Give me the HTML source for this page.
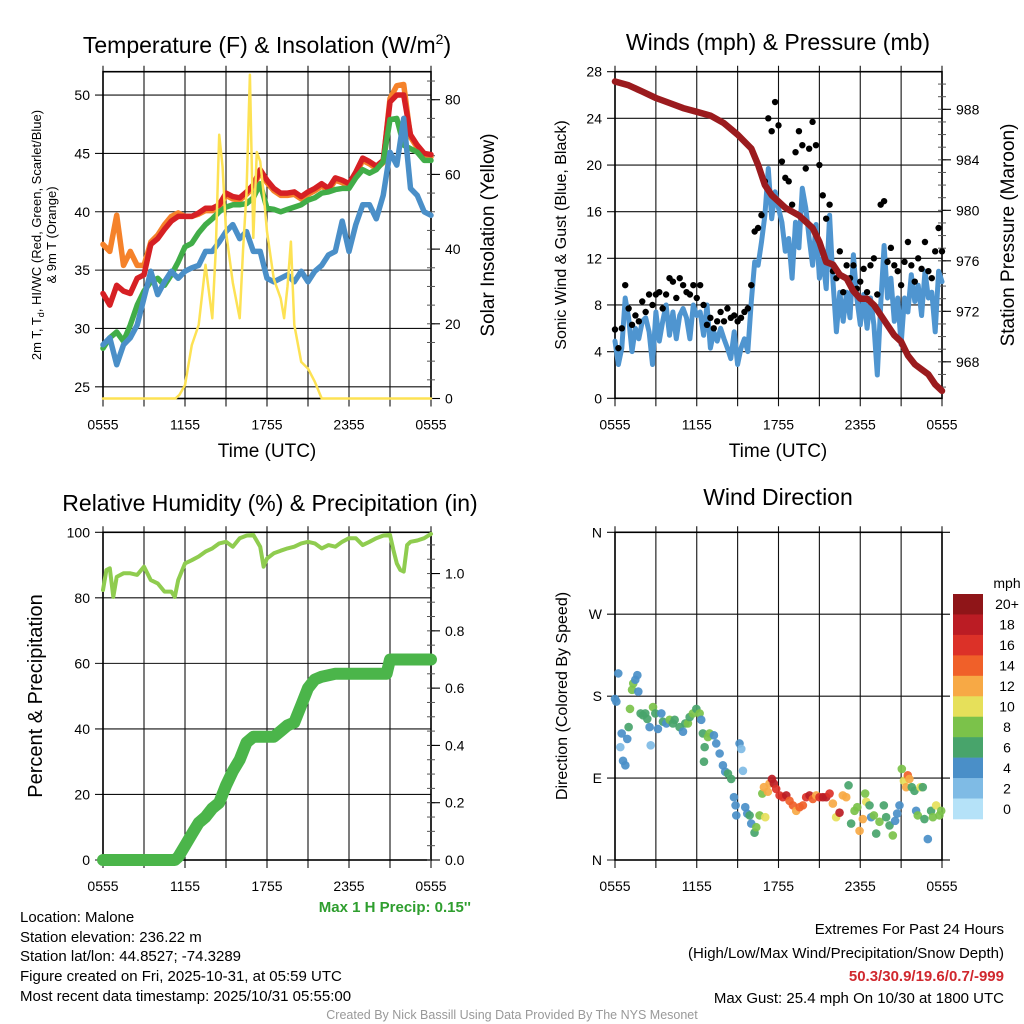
<!DOCTYPE html>
<html><head><meta charset="utf-8"><title>Malone Mesonet Meteogram</title>
<style>
html,body{margin:0;padding:0;background:#fff;}
svg{display:block;font-family:"Liberation Sans",Arial,sans-serif;}
</style></head>
<body>
<svg id="chart" width="1024" height="1024" viewBox="0 0 1024 1024" xmlns="http://www.w3.org/2000/svg">
<rect x="0" y="0" width="1024" height="1024" fill="#fff"/>
<!-- titles -->
<text x="267" y="53" font-size="23" text-anchor="middle">Temperature (F) &amp; Insolation (W/m<tspan dy="-9" font-size="14">2</tspan><tspan dy="9">)</tspan></text>
<text x="778" y="50" font-size="23" text-anchor="middle">Winds (mph) &amp; Pressure (mb)</text>
<text x="270" y="511" font-size="23" text-anchor="middle">Relative Humidity (%) &amp; Precipitation (in)</text>
<text x="778" y="505" font-size="23" text-anchor="middle">Wind Direction</text>
<!-- axis titles -->
<text transform="translate(41,235) rotate(-90)" font-size="13" text-anchor="middle">2m T, T<tspan font-size="9" dy="3">d</tspan><tspan dy="-3">, HI/WC (Red, Green, Scarlet/Blue)</tspan></text>
<text transform="translate(56,235) rotate(-90)" font-size="13" text-anchor="middle">&amp; 9m T (Orange)</text>
<text transform="translate(494,235) rotate(-90)" font-size="19" text-anchor="middle">Solar Insolation (Yellow)</text>
<text x="267" y="457" font-size="19" text-anchor="middle">Time (UTC)</text>
<text transform="translate(566,235) rotate(-90)" font-size="16" text-anchor="middle">Sonic Wind &amp; Gust (Blue, Black)</text>
<text transform="translate(1014,235) rotate(-90)" font-size="19" text-anchor="middle">Station Pressure (Maroon)</text>
<text x="778" y="457" font-size="19" text-anchor="middle">Time (UTC)</text>
<text transform="translate(42,696) rotate(-90)" font-size="20" text-anchor="middle">Percent &amp; Precipitation</text>
<text transform="translate(567,696) rotate(-90)" font-size="16" text-anchor="middle">Direction (Colored By Speed)</text>
<!-- info text -->
<text x="471" y="912" font-size="15" font-weight="bold" fill="#2e9e2e" text-anchor="end">Max 1 H Precip: 0.15''</text>
<g font-size="15">
<text x="20" y="922">Location: Malone</text>
<text x="20" y="942">Station elevation: 236.22 m</text>
<text x="20" y="961">Station lat/lon: 44.8527; -74.3289</text>
<text x="20" y="981">Figure created on Fri, 2025-10-31, at 05:59 UTC</text>
<text x="20" y="1001">Most recent data timestamp: 2025/10/31 05:55:00</text>
</g>
<g font-size="15" text-anchor="end">
<text x="1004" y="934">Extremes For Past 24 Hours</text>
<text x="1004" y="958">(High/Low/Max Wind/Precipitation/Snow Depth)</text>
<text x="1004" y="981" font-weight="bold" fill="#d0282e">50.3/30.9/19.6/0.7/-999</text>
<text x="1004" y="1003">Max Gust: 25.4 mph On 10/30 at 1800 UTC</text>
</g>
<text x="512" y="1019" font-size="12.5" fill="#999" text-anchor="middle">Created By Nick Bassill Using Data Provided By The NYS Mesonet</text>
</svg>
<script>
// ---------- data ----------
const halfHours = [0,0.5,1,1.5,2,2.5,3,3.5,4,4.5,5,5.5,6,6.5,7,7.5,8,8.5,9,9.5,10,10.5,11,11.5,12,12.5,13,13.5,14,14.5,15,15.5,16,16.5,17,17.5,18,18.5,19,19.5,20,20.5,21,21.5,22,22.5,23,23.5,24];
const temp2m = [33,32,33.7,33.2,33,34.3,34.6,37.2,37.7,38.5,39.2,39.6,39.6,39.6,39.9,40.3,40.3,40.6,41.6,41.3,41.2,41.7,42.3,43.6,42.7,42,41.6,41.6,41.7,41.3,41.7,42,42.4,42,42.9,42.7,42.4,43.4,44.6,44.3,43.9,44.4,49.4,50,50,46.6,45.7,45,44.9];
const temp9m = [37.2,36.6,39.7,35.4,36.6,35.4,35.4,37.4,38,38.9,39.6,39.9,39.6,39.6,39.8,40.1,40.1,40.4,41.4,41.1,41,41.5,42.1,43.4,42.5,41.8,41.4,41.4,41.5,41.1,41.5,41.8,42.2,41.8,42.7,42.5,42.2,43.2,44.4,44.1,43.7,44.2,49.7,50.8,50.9,46.4,45.5,44.8,44.7];
const dewpoint = [28.3,29.2,29.7,28.9,30.3,32,33.2,34,34.3,33.7,34.6,35.7,37,37.3,38.2,38.9,39.4,40,40.4,40.6,40.6,40.7,41.2,42.4,40.3,40.2,40,40.2,40.4,40.6,41,41.2,41.6,41.7,41.9,42,42,42.9,43.6,43.3,43.6,44.3,47.9,48,45.7,45.4,45.1,44.4,44.4];
const windChill = [28.6,29.2,26.9,28.6,29.2,30.3,32.6,34.9,32.9,34,34.9,34.3,34.9,35.2,35.4,36.6,36.6,37.4,38.3,38.9,37.7,38.3,36.6,36.6,34.3,34,34.3,34.6,34,34.9,34,34.9,35.4,36.3,36.6,39.2,36.6,38.9,40.6,40.6,39.4,41.4,45.1,44,48,42,41.4,40,39.7];
const solarTimes = [0,5.3,5.6,6,6.5,7,7.5,8,8.25,8.5,8.75,9,9.5,10,10.25,10.5,10.75,11,11.25,11.5,11.75,12,12.5,13,13.25,13.5,13.75,14,14.5,15,15.5,16,24];
const solarValues = [0,0,1,3.6,14.3,19.7,35.8,21.5,40,70.6,62,44.7,31,21.5,40,55,86.7,43,66,63.5,55,44.7,32,26.8,21.5,30,42,19.7,9.8,8,4.5,0,0];

const quarterHours = []; for (let i = 0; i <= 96; i++) quarterHours.push(i / 4);
const windSpeed = [4.9,2.9,4.3,8.6,6.9,4,6,5.1,6.6, 6.9,5.7,2.9,7.4,4.9,6.6,8,5.4, 7.4,5.1,7.1,7.7,6.9,5.1,8,7.1, 7.4,5.4,8,4.3,5.7,4.9,6,5.1, 4.3,3.4,5.7,2.9,4.3,5.1,4,8.3, 11.7,11.4,13.4,15.7,19.7,15.4,17.7,16.3, 15.1,12.6,13.7,10.3,15.1,12.9,18,16.3, 13.7,11.4,14.9,10.3,12,9.4,15.7,10, 5.7,9.1,6.6,9.1,6.9,12.3,8.6,6.3, 8.9,6,8.6,6.3,2,8,13.1,8.6, 10.3,6.6,8.6,4.6,8.6,7.4,10.6,8.3, 9.7,7.1,10.9,8.6,9.1,5.7,10.9,10];
const windGust = [5.9,4.3,6,9.7,7.7,6.3,7.1,6.6,8.3, 7.4,8.9,8,8.9,9.1,7.7,8.9,10.3, 10,8.6,10.3,9.7,9.1,8.9,9.7,8.6, 9.7,8,6.3,6.9,6,6.6,7.4,6.6, 7.7,6.9,7.1,6.6,6.9,7.4,7.7,9.7, 14.3,14.6,15.7,18.6,24,22.9,25.4,23.4, 20.3,18.9,18.6,16.6,21.1,22.9,21.7,19.7, 21.4,23.7,21.7,20,17.4,15.4,16.6,10.9, 10.3,12.6,9.1,11.4,10.3,11.4,9.4,10, 11.1,9.1,11.4,12,8.9,16.6,16.9,11.7, 12.9,11.4,10.9,9.7,11.7,13.4,11.4,10, 12,11.1,13.4,10.9,10.3,12.6,14.6,12.6];
const pressureTimes = [0,1,2,3,4,5,6,7,8,9,10,10.5,11,11.5,12,12.5,13,13.5,14,14.5,15,15.5,16,16.5,17,17.5,18,18.5,19,19.5,20,20.5,21,21.5,22,22.5,23,23.5,24];
const pressureValues = [990.2,989.9,989.4,988.9,988.5,988.1,987.8,987.5,986.9,986,984.9,983.6,982,981.2,980.7,980.2,979.9,979.6,979.1,978.6,977.5,975.9,975.7,974.9,974.6,973.6,973,973,972.5,971.7,970.9,970.1,969.6,968.5,967.8,967.4,967,966.2,965.7];

const rhTimes = [0,0.25,0.5,0.75,1,1.5,2,2.5,3,3.5,4,4.5,5,5.25,5.5,6,6.5,7,7.5,8,8.5,9,9.5,10,10.5,11,11.5,11.75,12,12.5,13,13.5,14,14.5,15,15.5,16,16.5,17,17.5,18,18.5,19,19.5,20,20.5,21,21.25,21.5,21.75,22,22.25,22.5,23,23.5,24];
const rhValues = [82.4,88.5,89,80.3,86.4,87.5,87.5,87,89.5,85.4,84.4,81.9,81.9,80.3,85.4,90.5,91.5,92.6,94.1,95.1,96.6,97.1,95.6,98.2,99,99.2,95.6,89.5,92,93.6,94.4,95.1,95.6,96.6,97.1,96.6,95.1,96.1,95.6,97.1,98.2,98.2,96.1,97.1,98.2,99,99.2,94.6,90.5,88.5,88,96.1,97.1,97.5,98.2,99.5];
const precipTimes = [0,5.25,5.5,6,6.5,7,7.5,8,8.5,9,9.5,10,10.5,11,12,12.5,13,13.5,14,14.5,15,15.5,16,17,18,20.75,21,24];
const precipValues = [0,0,0.01,0.05,0.09,0.13,0.15,0.18,0.2,0.26,0.31,0.35,0.41,0.43,0.43,0.43,0.45,0.47,0.48,0.54,0.6,0.63,0.64,0.65,0.65,0.65,0.7,0.7];

const dirTimes = [0,0.1,0.24,0.39,0.49,0.59,0.76,0.9,1.0,1.1,1.25,1.34,1.49,1.64,1.71,1.88,2.05,2.22,2.37,2.54,2.62,2.79,2.96,3.15,3.4,3.52,3.77,4.01,4.25,4.38,4.74,4.99,5.16,5.35,5.48,5.72,5.97,6.21,6.33,6.45,6.58,6.53,6.82,6.94,7.26,7.43,7.68,7.92,8.09,8.29,8.53,8.73,8.85,8.9,9.14,9.27,9.39,9.56,9.71,9.88,10.0,10.24,10.37,10.61,10.81,10.93,11.03,11.22,11.34,11.52,11.66,11.83,12.08,12.32,12.57,12.81,13.06,13.3,13.55,13.79,14.03,14.28,14.52,14.77,15.01,15.26,15.5,15.75,15.99,16.23,16.48,16.72,16.97,17.14,17.33,17.58,17.78,17.95,18.19,18.36,18.44,18.68,18.8,19.0,19.17,19.41,19.73,19.9,20.15,20.39,20.56,20.71,20.88,21.05,21.2,21.37,21.49,21.61,21.78,21.98,22.1,22.22,22.42,22.59,22.71,22.96,23.2,23.33,23.57,23.81,23.94];
const dirDegrees = [177,174,205,124,139,109,104,133,146,166,187,194,198,203,185,161,159,161,155,146,126,168,161,144,161,152,150,154,150,154,146,141,150,150,157,161,166,161,154,139,124,108,135,139,137,128,117,104,97,95,89,69,60,49,128,122,98,58,51,49,40,30,36,49,73,80,47,75,84,89,84,78,71,69,71,65,60,54,58,60,69,71,67,71,69,69,69,73,62,47,52,71,69,82,40,54,58,32,45,73,64,60,47,49,29,42,60,47,38,27,43,51,60,100,87,80,93,89,80,76,54,49,80,80,45,23,54,47,60,49,54];
const dirSpeeds = [4,4,4,2,4,4,4,4,6,8,8,8,4,4,4,6,6,6,6,4,2,8,6,4,4,6,4,8,6,6,6,4,6,8,6,8,6,8,4,6,6,6,8,8,4,4,4,4,4,6,6,4,4,4,4,2,2,4,4,6,4,6,8,8,8,12,10,12,12,18,18,16,16,16,18,14,14,12,14,14,16,18,14,12,16,18,18,16,12,10,18,12,12,6,6,8,8,12,12,8,10,6,4,8,6,8,6,6,6,8,4,4,4,8,10,12,14,12,6,6,4,8,10,6,6,4,6,8,10,8,8];

const timeTickHours = [0,3,6,9,12,15,18,21,24];
const timeLabelHours = [0,6,12,18,24];
const timeLabels = ['0555','1155','1755','2355','0555'];
const tempTicks = [25,30,35,40,45,50];
const solarTicks = [0,20,40,60,80];
const windTicks = [0,4,8,12,16,20,24,28];
const pressureTicks = [968,972,976,980,984,988];
const rhTicks = [0,20,40,60,80,100];
const precipTicks = [0,0.2,0.4,0.6,0.8,1.0];
const dirTicks = [0,90,180,270,360];
const dirLabels = ['N','E','S','W','N'];
const speedBins = ['0','2','4','6','8','10','12','14','16','18','20+'];
const speedColors = ['#b5e2f8','#7fbbe5','#4a8fc8','#48a46b','#7bc24a','#e6e05a','#f7a945','#f06029','#dc3128','#bb1c24','#8f1518'];

// ---------- helpers ----------
const NS = 'http://www.w3.org/2000/svg';
const svg = document.getElementById('chart');
function mk(tag, attrs, parent) {
  const e = document.createElementNS(NS, tag);
  for (const k in attrs) e.setAttribute(k, attrs[k]);
  (parent || svg).appendChild(e);
  return e;
}
function lin(d0, d1, r0, r1) { return v => r0 + (v - d0) / (d1 - d0) * (r1 - r0); }
function pts(xs, ys, sx, sy) { return xs.map((t, i) => sx(t).toFixed(1) + ',' + sy(ys[i]).toFixed(1)).join(' '); }

function panelAxes(name, x0, x1, yT, yB, sx, leftTicks, sLeft, leftLabels, showXLabels) {
  const g = mk('g', {});
  
  
  timeTickHours.forEach(h => {
    const x = sx(h);
    const gl = mk('line', {x1: x, x2: x, y1: yT - 6, y2: yB + 8, stroke: '#111', 'stroke-width': 1.1}, g);
    
    
  });
  leftTicks.forEach((v, i) => {
    const y = sLeft(v);
    const gl = mk('line', {x1: x0 - 8, x2: x1, y1: y, y2: y, stroke: '#111', 'stroke-width': 1.1}, g);
    
    
    const t = mk('text', {x: x0 - 13, y: y + 5, 'font-size': 14, 'text-anchor': 'end'}, g);
    t.textContent = leftLabels ? leftLabels[i] : String(v);
    
    
  });
  const fr = mk('rect', {x: x0, y: yT, width: x1 - x0, height: yB - yT, fill: 'none', stroke: '#000', 'stroke-width': 1.6}, g);
  
  
  timeLabelHours.forEach((h, i) => {
    const t = mk('text', {x: sx(h), y: yB + 31, 'font-size': 14, 'text-anchor': 'middle'}, g);
    t.textContent = timeLabels[i];
    
    
  });
  return g;
}
function rightAxis(name, x1, ticks, s, fmt, minorStep, lo, hi) {
  const g = mk('g', {});
  
  
  for (let v = lo; v <= hi + 1e-9; v += minorStep) {
    const m = mk('line', {x1: x1 - 4, x2: x1 + 4, y1: s(v), y2: s(v), stroke: '#555', 'stroke-width': 1}, g);
    
    
  }
  ticks.forEach(v => {
    const y = s(v);
    const tk = mk('line', {x1: x1, x2: x1 + 9, y1: y, y2: y, stroke: '#000', 'stroke-width': 1.1}, g);
    
    
    const t = mk('text', {x: x1 + 14, y: y + 5, 'font-size': 14}, g);
    t.textContent = fmt(v);
    
    
  });
}

// ---------- Panel 1: temperature ----------
const x1s = lin(0, 24, 103, 431);
const yTemp = lin(24, 52, 398.5, 71.7);
const ySolar = lin(0, 87.5, 398.5, 71.7);
panelAxes('temperature', 103, 431, 71.7, 398.5, x1s, tempTicks, yTemp, null, true);
rightAxis('insolation', 431, solarTicks, ySolar, v => String(v), 5, 0, 85);
const lineStyle = {fill: 'none', 'stroke-linejoin': 'round', 'stroke-linecap': 'round'};
const orangeLine = mk('polyline', Object.assign({points: pts(halfHours, temp9m, x1s, yTemp), stroke: '#f5822a', 'stroke-width': 5.5}, lineStyle));


const redLine = mk('polyline', Object.assign({points: pts(halfHours, temp2m, x1s, yTemp), stroke: '#d62024', 'stroke-width': 5.5}, lineStyle));


const greenLine = mk('polyline', Object.assign({points: pts(halfHours, dewpoint, x1s, yTemp), stroke: '#41ad48', 'stroke-width': 5.5}, lineStyle));


const blueLine = mk('polyline', Object.assign({points: pts(halfHours, windChill, x1s, yTemp), stroke: '#4a8fc8', 'stroke-width': 5.5}, lineStyle));


const solarLine = mk('polyline', Object.assign({points: pts(solarTimes, solarValues, x1s, ySolar), stroke: '#fde254', 'stroke-width': 2.5}, lineStyle));



// ---------- Panel 2: winds & pressure ----------
const x2s = lin(0, 24, 615, 942);
const yWind = lin(0, 28, 398.3, 71.7);
const yPres = lin(965.11, 990.98, 398.3, 71.7);
panelAxes('wind', 615, 942, 71.7, 398.3, x2s, windTicks, yWind, null, true);
rightAxis('pressure', 942, pressureTicks, yPres, v => String(v), 1, 966, 990);
const windLine = mk('polyline', Object.assign({points: pts(quarterHours, windSpeed, x2s, yWind), stroke: '#4f95d0', 'stroke-width': 5}, lineStyle));


const gustGroup = mk('g', {});


windGust.forEach((v, i) => {
  const c = mk('circle', {cx: x2s(quarterHours[i]), cy: yWind(v), r: 3.2, fill: '#000'}, gustGroup);
  
  
});
const presLine = mk('polyline', Object.assign({points: pts(pressureTimes, pressureValues, x2s, yPres), stroke: '#9b1b1e', 'stroke-width': 6.5}, lineStyle));



// ---------- Panel 3: RH & precip ----------
const yRH = lin(0, 100, 860, 532.3);
const yPrecip = lin(0, 1.144, 860, 532.3);
panelAxes('humidity', 103, 431, 532.3, 860, x1s, rhTicks, yRH, null, true);
rightAxis('precipitation', 431, precipTicks, yPrecip, v => v.toFixed(1), 0.05, 0, 1.1);
const rhLine = mk('polyline', Object.assign({points: pts(rhTimes, rhValues, x1s, yRH), stroke: '#8fcc4f', 'stroke-width': 4}, lineStyle));


const precipLine = mk('polyline', Object.assign({points: pts(precipTimes, precipValues, x1s, yPrecip), stroke: '#4bb54a', 'stroke-width': 12}, lineStyle));



// ---------- Panel 4: wind direction ----------
const yDir = lin(0, 360, 860, 532.3);
panelAxes('direction', 615, 942, 532.3, 860, x2s, dirTicks, yDir, dirLabels, true);
dirTicks.forEach(v => {
  const tk = mk('line', {x1: 942, x2: 950, y1: yDir(v), y2: yDir(v), stroke: '#000', 'stroke-width': 1.1});
  
  
});
const dirGroup = mk('g', {});


dirTimes.forEach((t, i) => {
  const idx = Math.min(10, Math.round(dirSpeeds[i] / 2));
  const c = mk('circle', {cx: x2s(t), cy: yDir(dirDegrees[i]), r: 4.3, fill: speedColors[idx], 'fill-opacity': 0.92}, dirGroup);
  
  
});
// colorbar
const cb = mk('g', {});


const cbTitle = mk('text', {x: 1007, y: 588, 'font-size': 14, 'text-anchor': 'middle'}, cb);
cbTitle.textContent = 'mph';


const boxH = (819 - 594) / speedBins.length;
speedBins.forEach((lab, i) => {
  const k = speedBins.length - 1 - i;
  const y = 594 + i * boxH;
  const r = mk('rect', {x: 953, y: y, width: 30, height: boxH + 0.3, fill: speedColors[k]}, cb);
  
  
  const t = mk('text', {x: 1007, y: y + boxH / 2 + 5, 'font-size': 14, 'text-anchor': 'middle'}, cb);
  t.textContent = speedBins[k];
  
  
});
</script>
</body></html>
